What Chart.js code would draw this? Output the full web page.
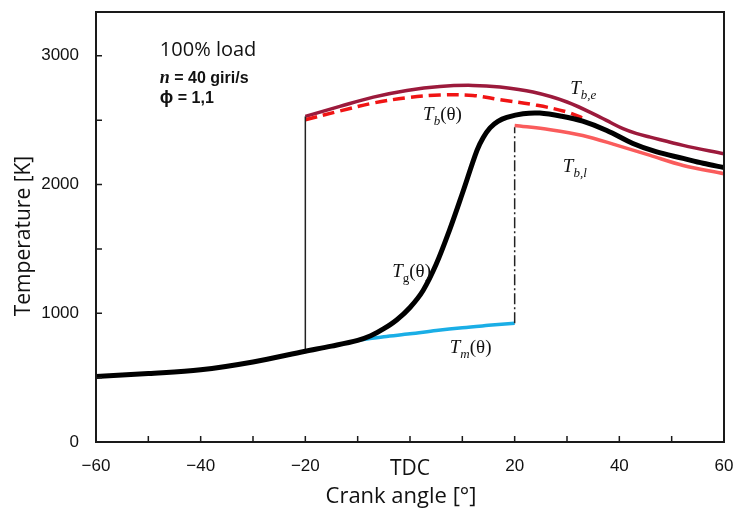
<!DOCTYPE html>
<html><head><meta charset="utf-8">
<script src="https://cdn.jsdelivr.net/npm/chart.js@4.4.1/dist/chart.umd.min.js"></script>
<style>html,body{margin:0;padding:0;background:#fff;} #wrap{width:734px;height:514px;position:relative;}</style>
</head><body><div id="wrap"><canvas id="c" width="734" height="514"></canvas></div>
<script>
// ---- data ----
const xTickValues = [-60, -50, -40, -30, -20, -10, 0, 10, 20, 30, 40, 50, 60];
const xTickLabels = ['\u221260', '', '\u221240', '', '\u221220', '', 'TDC', '', '20', '', '40', '', '60'];
const yTickValues = [0, 500, 1000, 1500, 2000, 2500, 3000];
const yTickLabels = ['0', '', '1000', '', '2000', '', '3000'];

const tgAngle = [-60, -50, -40, -30, -20, -15, -10, -7.5, -5, -2.5, 0, 2.5, 5, 7.5, 10, 12.8, 14, 15.3, 16.8, 18.5, 21.6, 24.8, 29, 33, 37.6, 42.6, 47, 52.2, 56, 60];
const tgTemp  = [509, 532, 561, 622, 705, 745, 790, 825, 880, 950, 1045, 1177, 1380, 1640, 1930, 2265, 2365, 2440, 2490, 2521, 2550, 2555, 2530, 2492, 2420, 2319, 2255, 2203, 2165, 2132];

const tmAngle = [-10, -5, 0, 5, 10, 15, 20];
const tmTemp  = [790, 818, 840, 866, 888, 906, 923];

const tbeAngle = [-20, -13.4, -7, -0.6, 5.7, 12, 17.2, 23.5, 30, 36.3, 38.4, 40.7, 43.2, 45.9, 52.2, 60];
const tbeTemp  = [2529, 2607, 2679, 2731, 2762, 2770, 2757, 2718, 2641, 2524, 2480, 2434, 2397, 2368, 2304, 2239];

const tbAngle = [-20, -13.4, -7, -0.6, 5.7, 12, 17.2, 24.3, 30, 33.8];
const tbTemp  = [2503, 2571, 2633, 2674, 2695, 2692, 2659, 2615, 2563, 2503];

const tblAngle = [20, 26.8, 33, 39.6, 45.9, 52.2, 60];
const tblTemp  = [2459, 2426, 2381, 2304, 2226, 2148, 2084];

const ignitionAngle = [-20, -20];
const ignitionTemp  = [705, 2529];
const endAngle = [20, 20];
const endTemp  = [923, 2445];

const pts = (a, t) => a.map((v, i) => ({x: v, y: t[i]}));

// label anchors in data coordinates
const curveLabels = [
  {x: 2.5, y: 2503, parts: [['T', 'italic'], ['b', 'sub'], ['(\u03b8)', 'normal']]},
  {x: 30.6, y: 2705, parts: [['T', 'italic'], ['b,e', 'sub']]},
  {x: 29.2, y: 2094, parts: [['T', 'italic'], ['b,l', 'sub']]},
  {x: -3.4, y: 1278, parts: [['T', 'italic'], ['g', 'subn'], ['(\u03b8)', 'normal']]},
  {x: 7.6, y: 695, parts: [['T', 'italic'], ['m', 'sub'], ['(\u03b8)', 'normal']]}
];

const serif = '"Liberation Serif", "DejaVu Serif", serif';
const sans = '"Liberation Sans", Arial, sans-serif';
const calib = '"Open Sans", "Noto Sans", sans-serif';

function drawParts(ctx, x, y, parts) {
  let cx = x;
  for (const [txt, style] of parts) {
    let font, dy = 0;
    if (style === 'italic') font = 'italic 19px ' + serif;
    else if (style === 'sub') { font = 'italic 13px ' + serif; dy = 5; }
    else if (style === 'subn') { font = '13px ' + serif; dy = 5; }
    else font = '19px ' + serif;
    ctx.font = font;
    ctx.fillText(txt, cx, y + dy);
    cx += ctx.measureText(txt).width;
  }
}

const framePlugin = {
  id: 'frame',
  afterDatasetsDraw(chart) {
    const ctx = chart.ctx, a = chart.chartArea;
    const xs = chart.scales.x, ys = chart.scales.y;
    ctx.save();
    ctx.strokeStyle = '#1a1a1a';
    ctx.lineWidth = 2;
    ctx.strokeRect(a.left, a.top, a.right - a.left, a.bottom - a.top);
    ctx.lineWidth = 1.5;
    ctx.beginPath();
    xs.ticks.forEach(t => {
      const px = xs.getPixelForValue(t.value);
      ctx.moveTo(px, a.bottom); ctx.lineTo(px, a.bottom - 6);
    });
    ys.ticks.forEach(t => {
      const py = ys.getPixelForValue(t.value);
      ctx.moveTo(a.left, py); ctx.lineTo(a.left + 6, py);
    });
    ctx.stroke();

    ctx.fillStyle = '#111';
    ctx.textBaseline = 'alphabetic';
    ctx.textAlign = 'left';
    // condition notes
    const nx = xs.getPixelForValue(-47.8);
    ctx.font = '20px ' + calib;
    ctx.fillText('100% load', nx, ys.getPixelForValue(2995));
    let by = ys.getPixelForValue(2786);
    ctx.font = 'bold italic 18px ' + serif;
    ctx.fillText('n', nx, by);
    let w = ctx.measureText('n').width;
    ctx.font = 'bold 16px ' + sans;
    ctx.fillText(' = 40 giri/s', nx + w, by);
    by = ys.getPixelForValue(2630);
    ctx.font = 'bold 18px ' + sans;
    ctx.fillText('\u03d5', nx, by);
    w = ctx.measureText('\u03d5').width;
    ctx.font = 'bold 16px ' + sans;
    ctx.fillText(' = 1,1', nx + w, by);

    for (const l of curveLabels) {
      drawParts(ctx, xs.getPixelForValue(l.x), ys.getPixelForValue(l.y), l.parts);
    }

    // axis titles
    ctx.font = '22px ' + calib;
    ctx.textAlign = 'center';
    ctx.textBaseline = 'middle';
    ctx.fillText('Crank angle [\u00b0]', 401, 497);
    ctx.save();
    ctx.translate(24, 236);
    ctx.rotate(-Math.PI / 2);
    ctx.font = '21px ' + calib;
    ctx.fillText('Temperature [K]', 0, 0);
    ctx.restore();
    ctx.restore();
  }
};

const curve = {showLine: true, pointRadius: 0, tension: 0.35};

new Chart(document.getElementById('c'), {
  type: 'scatter',
  data: {
    datasets: [
      {...curve, label: 'Tg', data: pts(tgAngle, tgTemp), borderColor: '#000', borderWidth: 5},
      {label: 'ign', data: pts(ignitionAngle, ignitionTemp), showLine: true, borderColor: '#222', borderWidth: 1.5, tension: 0, pointRadius: 0},
      {label: 'end', data: pts(endAngle, endTemp), showLine: true, borderColor: '#222', borderWidth: 1.5, borderDash: [11, 3, 2, 3], tension: 0, pointRadius: 0},
      {...curve, label: 'Tm', data: pts(tmAngle, tmTemp), borderColor: '#1aaee6', borderWidth: 3.5},
      {...curve, label: 'Tb', data: pts(tbAngle, tbTemp), borderColor: '#f01414', borderWidth: 3.5, borderDash: [12, 6]},
      {...curve, label: 'Tbl', data: pts(tblAngle, tblTemp), borderColor: '#fa5c5c', borderWidth: 3.5},
      {...curve, label: 'Tbe', data: pts(tbeAngle, tbeTemp), borderColor: '#9c1a3c', borderWidth: 3.5}
    ]
  },
  options: {
    responsive: false,
    animation: false,
    events: [],
    layout: {padding: {top: 12, right: 10, left: 0, bottom: 0}},
    plugins: {legend: {display: false}, tooltip: {enabled: false}},
    scales: {
      x: {
        type: 'linear', min: -60, max: 60,
        grid: {display: false}, border: {display: false},
        afterBuildTicks: s => { s.ticks = xTickValues.map(v => ({value: v})); },
        afterFit: s => { s.height = 72; s.paddingLeft = 0; s.paddingRight = 0; },
        ticks: {
          autoSkip: false, maxRotation: 0, padding: 6,
          color: '#111',
          font: ctx => (ctx.tick && ctx.tick.value === 0) ? {family: calib, size: 21} : {family: sans, size: 17},
          callback: v => { const i = xTickValues.indexOf(v); return i >= 0 ? xTickLabels[i] : ''; }
        }
      },
      y: {
        type: 'linear', min: 0, max: 3340,
        grid: {display: false}, border: {display: false},
        afterBuildTicks: s => { s.ticks = yTickValues.map(v => ({value: v})); },
        afterFit: s => { s.width = 96; s.paddingTop = 0; s.paddingBottom = 0; },
        ticks: {
          autoSkip: false, padding: 9,
          color: '#111', font: {family: sans, size: 17},
          callback: v => { const i = yTickValues.indexOf(v); return i >= 0 ? yTickLabels[i] : ''; }
        }
      }
    }
  },
  plugins: [framePlugin]
});
</script></body></html>
